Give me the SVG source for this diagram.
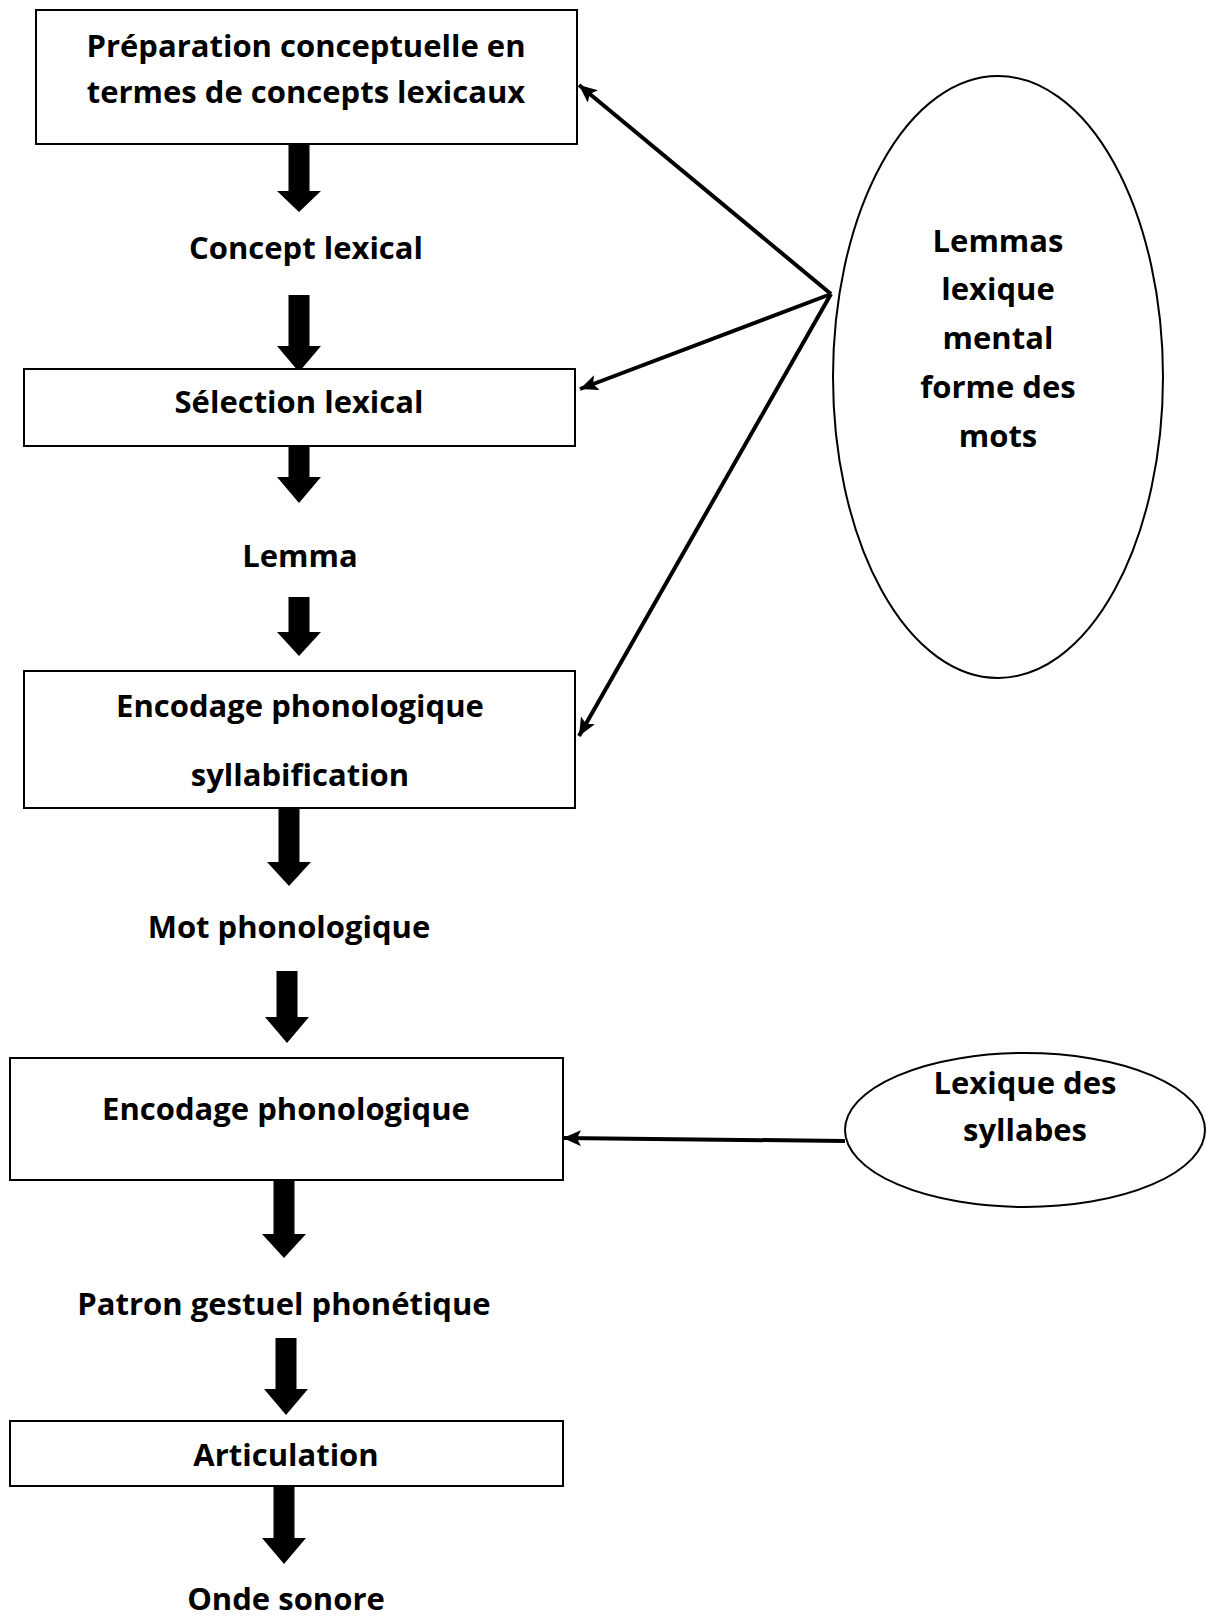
<svg xmlns="http://www.w3.org/2000/svg" width="1206" height="1619" viewBox="0 0 1206 1619">
<style>
.box{fill:#fff;stroke:#000;stroke-width:2}
.ell{fill:#fff;stroke:#000;stroke-width:2}
.t{font-family:"Open Sans","Liberation Sans",sans-serif;font-weight:bold;font-size:31px;fill:#000;text-anchor:middle}
.blk{fill:#000}
.con{stroke:#000;stroke-width:4;fill:none;marker-end:url(#ah)}
</style>
<defs>
<marker id="ah" markerUnits="userSpaceOnUse" markerWidth="20" markerHeight="16" refX="18" refY="8" orient="auto">
<path d="M0,0 L18,8 L0,16 L4,8 Z" fill="#000"/>
</marker>
</defs>
<rect width="1206" height="1619" fill="#fff"/>

<g id="connectors">
<path class="blk" d="M288.5 137H309.5V191H321L299 212L277 191H288.5Z"/>
<path class="blk" d="M288.5 295H309.5V346H321L299 372L277 346H288.5Z"/>
<path class="blk" d="M288.5 425H309.5V477H321L299 503L277 477H288.5Z"/>
<path class="blk" d="M288.5 597H309.5V632H321L299 656L277 632H288.5Z"/>
<path class="blk" d="M278.5 808H299.5V862H311L289 886L267 862H278.5Z"/>
<path class="blk" d="M276.5 971H297.5V1017H309L287 1043L265 1017H276.5Z"/>
<path class="blk" d="M273.5 1180H294.5V1234H306L284 1258L262 1234H273.5Z"/>
<path class="blk" d="M275.5 1338H296.5V1389H308L286 1415L264 1389H275.5Z"/>
<path class="blk" d="M273.5 1486H294.5V1538H306L284 1564L262 1538H273.5Z"/>
<line class="con" x1="831" y1="294" x2="579" y2="85"/>
<line class="con" x1="831" y1="294" x2="580" y2="389"/>
<line class="con" x1="831" y1="294" x2="579" y2="736"/>
<line class="con" x1="845" y1="1141" x2="563" y2="1138"/>
</g>

<g id="n1"><rect class="box" x="36" y="10" width="541" height="134"/>
<text class="t" x="306" y="57">Préparation conceptuelle en</text>
<text class="t" x="306" y="103">termes de concepts lexicaux</text></g>
<g id="n2"><text class="t" x="306" y="259">Concept lexical</text></g>
<g id="n3"><rect class="box" x="24" y="369" width="551" height="77"/>
<text class="t" x="299" y="413">Sélection lexical</text></g>
<g id="n4"><text class="t" x="300" y="567">Lemma</text></g>
<g id="n5"><rect class="box" x="24" y="671" width="551" height="137"/>
<text class="t" x="300" y="717">Encodage phonologique</text>
<text class="t" x="300" y="786">syllabification</text></g>
<g id="n6"><text class="t" x="289" y="938">Mot phonologique</text></g>
<g id="n7"><rect class="box" x="10" y="1058" width="553" height="122"/>
<text class="t" x="286" y="1120">Encodage phonologique</text></g>
<g id="n8"><text class="t" x="284" y="1315">Patron gestuel phonétique</text></g>
<g id="n9"><rect class="box" x="10" y="1421" width="553" height="65"/>
<text class="t" x="286" y="1466">Articulation</text></g>
<g id="n10"><text class="t" x="286" y="1610">Onde sonore</text></g>
<g id="n11"><ellipse class="ell" cx="998" cy="377" rx="165" ry="301"/>
<text class="t" x="998" y="252">Lemmas</text>
<text class="t" x="998" y="300">lexique</text>
<text class="t" x="998" y="349">mental</text>
<text class="t" x="998" y="398">forme des</text>
<text class="t" x="998" y="447">mots</text></g>
<g id="n12"><ellipse class="ell" cx="1025" cy="1130" rx="180" ry="77"/>
<text class="t" x="1025" y="1094">Lexique des</text>
<text class="t" x="1025" y="1141">syllabes</text></g>
</svg>
